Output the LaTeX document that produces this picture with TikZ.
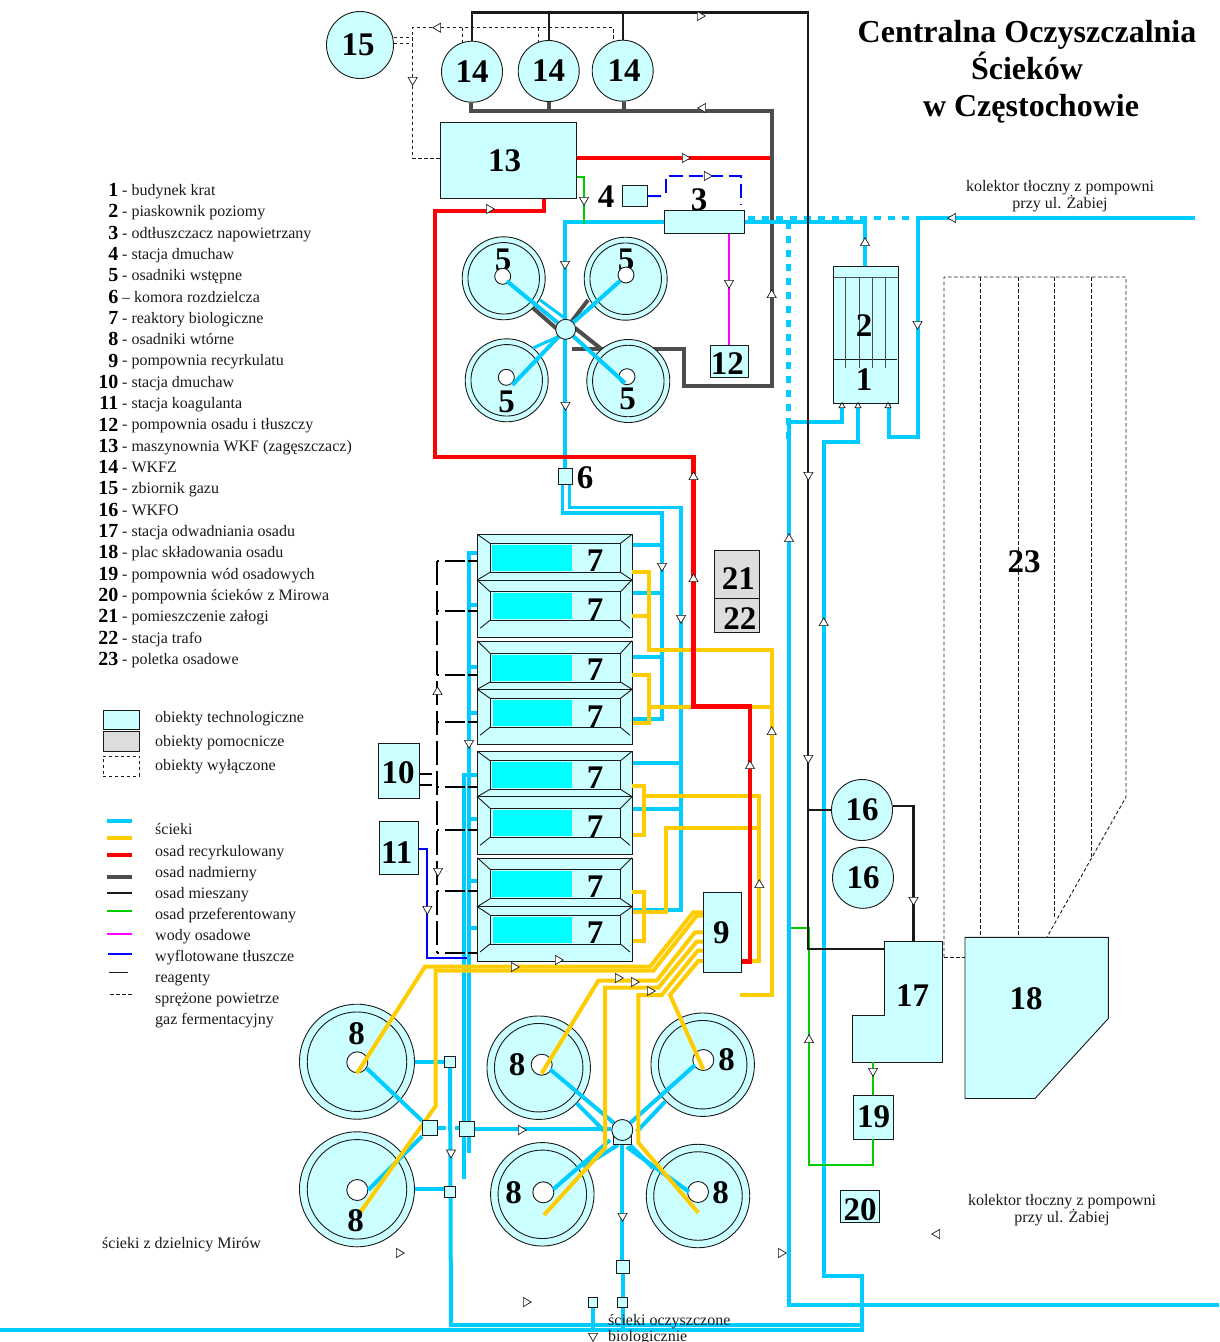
\documentclass[tikz,border=0pt]{standalone}
\usepackage{fontspec}
\setmainfont{Liberation Serif}
\usetikzlibrary{arrows.meta,positioning,shapes,calc}
\definecolor{tankfill}{HTML}{CCFFFF}
\definecolor{basinfill}{HTML}{00FFFF}
\definecolor{auxfill}{HTML}{DDDDDD}
\definecolor{ink}{HTML}{1A1A1A}
\definecolor{sewagecol}{HTML}{00CCFF}
\definecolor{returncol}{HTML}{FFCC00}
\definecolor{recyclecol}{HTML}{FF0000}
\definecolor{excesscol}{HTML}{4D4D4D}
\definecolor{primarycol}{HTML}{00CC00}
\definecolor{liquorcol}{HTML}{FF00FF}
\definecolor{fatcol}{HTML}{0000FF}
\pgfdeclarelayer{under}
\pgfdeclarelayer{over}
\pgfsetlayers{under,main,over}
\tikzset{
  objbox/.style={draw=ink,fill=tankfill,line width=0.9pt,inner sep=0pt,
                 font=\fontsize{33}{36}\selectfont\bfseries},
  auxbox/.style={objbox,fill=auxfill},
  roundobj/.style={objbox,circle},
  ringobj/.style={draw=ink,circle,line width=0.9pt,inner sep=0pt,fill=none},
  holeobj/.style={draw=ink,fill=white,circle,line width=0.9pt,inner sep=0pt},
  numlab/.style={inner sep=0pt,font=\fontsize{33}{36}\selectfont\bfseries},
  txtlab/.style={inner sep=0pt,align=center,font=\fontsize{16}{16}\selectfont,text=ink},
  rowlab/.style={txtlab,anchor=base west},
  flowtip/.style={regular polygon,regular polygon sides=3,draw=ink,fill=white,
                  line width=0.7pt,inner sep=0pt,minimum size=10.5pt},
  sewage/.style={line width=4pt,color=sewagecol},
  sewagedot/.style={sewage,line width=4.5pt,dash pattern=on 6.5pt off 7.5pt},
  returnsl/.style={line width=4pt,color=returncol},
  recycle/.style={line width=4.5pt,color=recyclecol},
  excess/.style={line width=4pt,color=excesscol},
  mixedsl/.style={line width=2.2pt,color=ink},
  primarysl/.style={line width=2pt,color=primarycol},
  liquor/.style={line width=2pt,color=liquorcol},
  fatline/.style={line width=2pt,color=fatcol},
  reagent/.style={line width=1.8pt,color=black,dash pattern=on 24pt off 6pt},
  reagentarm/.style={line width=1.8pt,color=black,dash pattern=on 2pt off 6pt on 20pt off 3pt on 9pt},
  gasline/.style={line width=0.9pt,color=ink,dash pattern=on 3.5pt off 2.5pt}
}
\begin{document}
\begin{tikzpicture}[x=1pt,y=-1pt]
  \useasboundingbox (0,0) rectangle (1219,1342);
  \node[inner sep=0pt,align=center,font=\fontsize{32}{37}\selectfont\bfseries] (title) at (1027,72)
    {Centralna Oczyszczalnia\\Ścieków\\\hspace*{8pt}w Częstochowie};
  \node[txtlab] (kolektortop) at (1060,196) {kolektor tłoczny z pompowni\\przy ul. Żabiej};
  \node[txtlab] (kolektorbot) at (1062,1210) {kolektor tłoczny z pompowni\\przy ul. Żabiej};
  \node[rowlab] (mirow) at (102,1248) {ścieki z dzielnicy Mirów};

  \foreach \lnum/\ltxt [count=\k] in {1/- budynek krat,2/- piaskownik poziomy,3/- odtłuszczacz napowietrzany,
      4/- stacja dmuchaw,5/- osadniki wstępne,6/– komora rozdzielcza,7/- reaktory biologiczne,
      8/- osadniki wtórne,9/- pompownia recyrkulatu,10/- stacja dmuchaw,11/- stacja koagulanta,
      12/- pompownia osadu i tłuszczy,13/- maszynownia WKF (zagęszczacz),14/- WKFZ,15/- zbiornik gazu,
      16/- WKFO,17/- stacja odwadniania osadu,18/- plac składowania osadu,19/- pompownia wód osadowych,
      20/- pompownia ścieków z Mirowa,21/- pomieszczenie załogi,22/- stacja trafo,23/- poletka osadowe}{
    \pgfmathsetmacro\ly{190+(\k-1)*21.31}
    \node[anchor=east,inner sep=0pt,font=\fontsize{20}{20}\selectfont\bfseries] (legnum\k) at (118.5,\ly) {\lnum};
    \node[rowlab] (legtxt\k) at (122,\ly+5.5) {\ltxt};
  }

  \node[objbox,minimum width=36.4pt,minimum height=19.3pt] (swtech) at (121.5,719.7) {};
  \node[auxbox,minimum width=36.4pt,minimum height=20pt] (swaux) at (121.5,741.7) {};
  \node[draw=ink,dashed,line width=0.8pt,inner sep=0pt,minimum width=36.4pt,minimum height=20pt] (swoff) at (121.5,766) {};
  \node[rowlab] (txttech) at (155,722) {obiekty technologiczne};
  \node[rowlab] (txtaux) at (155,746) {obiekty pomocnicze};
  \node[rowlab] (txtoff) at (155,770) {obiekty wyłączone};

  \draw[sewage] (107,821) -- (132,821);
  \draw[returnsl] (107,837.7) -- (132,837.7);
  \draw[recycle] (107,855) -- (132,855);
  \draw[excess] (107,876.7) -- (132,876.7);
  \draw[mixedsl] (107,893.3) -- (132,893.3);
  \draw[primarysl] (107,911) -- (132,911);
  \draw[liquor] (107,933.7) -- (132,933.7);
  \draw[fatline] (108,953.7) -- (132,953.7);
  \draw[line width=1.2pt,color=ink] (109,972.7) -- (128,972.7);
  \draw[gasline] (110,994.7) -- (134,994.7);
  \foreach \ltxt/\ly [count=\k] in {ścieki/834,osad recyrkulowany/856,osad nadmierny/877,osad mieszany/898,
      osad przeferentowany/919,wody osadowe/940,wyflotowane tłuszcze/961,reagenty/982,
      sprężone powietrze/1003,gaz fermentacyjny/1024}{
    \node[rowlab] (linetxt\k) at (155,\ly) {\ltxt};
  }

  \node[roundobj,minimum size=67pt] (gas15) at (360,45) {\hspace*{-4pt}15};
  \node[roundobj,minimum size=61pt] (wkfza) at (472,71.7) {14};
  \node[roundobj,minimum size=61pt] (wkfzb) at (548.7,71) {14};
  \node[roundobj,minimum size=61pt] (wkfzc) at (622.7,70.7) {\hspace*{3pt}14};
  \node[objbox,minimum width=136.4pt,minimum height=76pt] (wkf13) at (508.5,160.3) {\hspace*{-8pt}13};
  \node[objbox,minimum width=25pt,minimum height=21pt] (blow4) at (635.2,196.2) {};
  \node[numlab] (lab3) at (699,200) {3};
  \node[numlab] (lab4) at (606,197) {4};
  \node[objbox,minimum width=80.7pt,minimum height=23.4pt] (fat3) at (704.3,222) {};
  \node[objbox,minimum width=38pt,minimum height=32.4pt,text height=26pt] (pump12) at (729.3,361.5) {\hspace*{-4pt}12};
  \node[auxbox,minimum width=45pt,minimum height=48pt,text height=30pt] (crew21) at (736.8,574) {\hspace*{3pt}21};
  \node[auxbox,minimum width=45pt,minimum height=34pt,text height=28pt] (trafo22) at (736.8,615) {\hspace*{6pt}22};
  \node[objbox,minimum width=38pt,minimum height=80pt] (pump9) at (722.3,932.3) {\hspace*{-2pt}9};
  \node[objbox,minimum width=40.6pt,minimum height=54.7pt,text height=26pt] (blow10) at (399,770.7) {\hspace*{-2pt}10};
  \node[objbox,minimum width=39pt,minimum height=52.3pt,text height=30pt] (coag11) at (398.8,848) {\hspace*{-4pt}11};
  \node[objbox,minimum width=40.4pt,minimum height=44pt] (pump19) at (873.5,1117) {19};
  \node[objbox,minimum width=38.6pt,minimum height=31.3pt,text height=29pt] (pump20) at (860,1206.3) {20};
  \node[roundobj,minimum size=61pt] (wkfoa) at (862,810) {16};
  \node[roundobj,minimum size=61pt] (wkfob) at (863,877.8) {16};

  \node[objbox,minimum width=65.3pt,minimum height=137.4pt] (grit12) at (865.7,335) {};
  \draw[line width=1pt,color=excesscol] (833,277.7) -- (898,277.7);
  \draw[line width=0.8pt,color=ink] (833,359.3) -- (897,359.3);
  \foreach \vx in {845.7,859.3,872.3,885.7}
    \draw[line width=0.9pt,color=excesscol] (\vx,277.7) -- (\vx,367.7);
  \node[numlab] (lab2) at (864,325.7) {2};
  \node[numlab] (lab1) at (864,380) {1};

  \draw[objbox] (884.7,941) -- (942.7,941) -- (942.7,1062) -- (852.7,1062) -- (852.7,1015) -- (884.7,1015) -- cycle;
  \node[numlab] (lab17) at (912.7,996) {17};
  \draw[objbox] (965,937.3) -- (1108.3,937.3) -- (1108.3,1018.5) -- (1035,1098.5) -- (965,1098.5) -- cycle;
  \node[numlab] (lab18) at (1026,999) {18};
  \coordinate (in17) at (913.5,941);
  \coordinate (side17) at (884.7,949);
  \coordinate (out17) at (873,1062);

  \draw[gasline] (944,957) -- (944,277) -- (1126,277) -- (1126,797) -- (1047,937);
  \draw[gasline] (944,957) -- (965,957);
  \draw[gasline] (980,277) -- (980,937);
  \draw[gasline] (1018.3,277) -- (1018.3,937);
  \draw[gasline] (1054,277) -- (1054,919);
  \draw[gasline] (1091,277) -- (1091,858);
  \node[numlab] (lab23) at (1024,562) {23};

  \foreach \tn/\tx/\ty/\hx/\hy/\lx/\ly in {a/503.7/278.3/502.7/276.3/503/260,b/625.7/278.7/626/275/626/260,
      c/506.7/380.3/506.3/377.3/506.7/401.7,d/628.3/381/627/376.7/627.7/399}{
    \node[roundobj,minimum size=83pt] (prim\tn) at (\tx,\ty) {};
    \node[ringobj,minimum size=71.5pt] (primring\tn) at (\tx,\ty) {};
    \node[numlab] (primlab\tn) at (\lx,\ly) {5};
    \node[holeobj,minimum size=16pt] (primhole\tn) at (\hx,\hy) {};
  }

  \foreach \tn/\tx/\ty/\hx/\hy in {a/357/1061.7/357.3/1062.3,b/357/1189.3/357.3/1190}{
    \node[roundobj,minimum size=115pt] (sec\tn) at (\tx,\ty) {};
    \node[ringobj,minimum size=99.5pt] (secring\tn) at (\tx,\ty) {};
    \node[holeobj,minimum size=21pt] (sechole\tn) at (\hx,\hy) {};
  }
  \foreach \tn/\tx/\ty/\hx/\hy in {c/538.7/1067.7/541.7/1064.7,d/702.7/1064.7/703.3/1060,
      e/542.3/1194.3/543.3/1192.3,f/698/1196/698/1192}{
    \node[roundobj,minimum size=103.5pt] (sec\tn) at (\tx,\ty) {};
    \node[ringobj,minimum size=88.5pt] (secring\tn) at (\tx,\ty) {};
    \node[holeobj,minimum size=21pt] (sechole\tn) at (\hx,\hy) {};
  }

  \foreach \bn/\bt/\bd/\bb/\ia/\ib/\ic/\ie in {a/534.3/580/637.3/543.3/572.3/591.7/620.3,
      b/640.7/689.3/744/653.3/682/698.3/727.3,c/751.3/796.7/854/760.7/789.3/808.3/837.3,
      d/857.7/906.7/961/869.3/898.7/915/944}{
    \node[objbox,anchor=north west,minimum width=154.7pt,minimum height=(\bb-\bt)*1pt] (react\bn) at (477.3,\bt) {};
    \fill[basinfill] (492,\ia+1.5) rectangle (571.7,\ib-1.5);
    \fill[basinfill] (492.5,\ic+1.5) rectangle (572,\ie-1.5);
    \node[numlab] (reactlab\bn) at (595,\ib-12) {7};
    \node[numlab] (reactlow\bn) at (595,\ie-11) {7};
    \draw[line width=0.9pt,color=ink] (490,\ia) rectangle (620.5,\ib);
    \draw[line width=0.9pt,color=ink] (490,\ic) rectangle (620.5,\ie);
    \draw[line width=0.9pt,color=ink] (477.3,\bd) -- (632,\bd);
    \draw[line width=0.9pt,color=ink] (477.3,\bt) -- (490,\ia) (632,\bt) -- (620.5,\ia);
    \draw[line width=0.9pt,color=ink] (490,\ib) -- (477.3,\bd) -- (490,\ic);
    \draw[line width=0.9pt,color=ink] (620.5,\ib) -- (632,\bd) -- (620.5,\ic);
    \draw[line width=0.9pt,color=ink] (490,\ie) -- (480,\ie+8) (620.5,\ie) -- (630,\ie+8);
  }

  \begin{pgfonlayer}{over}
    \node[objbox,minimum width=13.6pt,minimum height=16pt] (chamber6) at (565.5,476) {};
    \node[roundobj,minimum size=20pt] (hubprim) at (565.7,329.3) {};
    \node[objbox,minimum width=18pt,minimum height=14pt] (hubbase) at (622.3,1137.5) {};
    \node[roundobj,minimum size=21pt] (hubsec) at (622.3,1130) {};
    \node[objbox,minimum size=15pt] (sqleft) at (430,1128.3) {};
    \node[objbox,minimum size=15pt] (sqmid) at (467,1129) {};
    \node[objbox,minimum size=11pt] (sqtop) at (450,1061.7) {};
    \node[objbox,minimum size=11pt] (sqbot) at (449.7,1191.7) {};
    \node[objbox,minimum size=12.5pt] (sqout) at (622.7,1267) {};
    \node[objbox,minimum size=10pt] (sqouta) at (622.7,1302.3) {};
    \node[objbox,minimum size=9.5pt] (sqoutb) at (592.7,1302.3) {};
    \node[numlab] (lab6) at (585,478) {6};
    \node[numlab] (seclaba) at (356.7,1033.3) {8};
    \node[numlab] (seclabb) at (355.7,1220.7) {8};
    \node[numlab] (seclabc) at (517,1065) {8};
    \node[numlab] (seclabd) at (726.7,1060) {8};
    \node[numlab] (seclabe) at (513.7,1192.7) {8};
    \node[numlab] (seclabf) at (720.7,1192.7) {8};
    \node[txtlab,align=left,anchor=base west] (oczyszcz) at (608,1341) {ścieki oczyszczone\\biologicznie};
  \end{pgfonlayer}

  \begin{pgfonlayer}{under}
    \draw[excess] ([xshift=-1.5pt]wkfza.south) -- (470.5,111) -- (771.7,111) -- (771.7,385.7) -- (684,385.7) -- (684,349.3) -- (571.7,349.3);
    \draw[excess] ([xshift=0.3pt]wkfzb.south) -- (549,111);
    \draw[excess] ([xshift=1.3pt]wkfzc.south) -- (624,111);
    \draw[excess] (533,308) -- (557,329);
    \draw[excess] (575,328) -- (601.7,349.3);
    \draw[excess] (588,300) -- (hubprim);
  \end{pgfonlayer}

  \draw[sewage] (fat3.east) -- (865,222) -- (865,266);
  \draw[sewage] (fat3.west) -- (565,222) -- (chamber6.north -| 565,0);
  \draw[sewagedot] (748,218) -- (918,218);
  \draw[sewagedot] (788.5,222) -- (788.5,440);
  \draw[sewage] (1195,218) -- (918,218) -- (918,437.3) -- (888.7,437.3) -- (888.7,404);
  \draw[sewage] (842,404) -- (842,421.7) -- (789,421.7) -- (789,1305) -- (1219,1305);
  \draw[sewage] (858,404) -- (858,441.7) -- (823.7,441.7) -- (823.7,1276) -- (862,1276) -- (862,1329.5) -- (0,1329.5);
  \draw[sewage] (sqtop.south) -- (451,1325) -- (862,1325);
  \draw[sewage] (506.7,281) -- (hubprim);
  \draw[sewage] (620,281) -- (hubprim);
  \draw[sewage] (512.3,385) -- (hubprim);
  \draw[sewage] (625,383) -- (hubprim);
  \draw[sewage,line width=3pt] (540,300) -- (hubprim.north);
  \draw[sewage,line width=3pt] (593,306) -- (hubprim.north east);
  \draw[sewage,line width=3pt] (533,348) -- (hubprim.south west);
  \draw[sewage,line width=3.4pt] (562.5,484) -- (562.5,513) -- (662,513) -- (662,719) -- (633,719);
  \draw[sewage,line width=3.4pt] (569.5,484) -- (569.5,507.5) -- (681,507.5) -- (681,910) -- (633,910);
  \foreach \by in {545.3,593,656.7}
    \draw[sewage] (662,\by) -- (reacta.east |- 0,\by);
  \foreach \by in {763.3,809.3}
    \draw[sewage] (681,\by) -- (reacta.east |- 0,\by);
  \draw[sewage] (reacta.west |- 0,552.7) -- (469,552.7) -- (469,1152.7);
  \draw[sewage] (reacta.west |- 0,775) -- (463.7,775) -- (463.7,1179.3);
  \foreach \by in {605,666.7,712.7,819.3,880.7,928}
    \draw[sewage] (469,\by) -- (reacta.west |- 0,\by);
  \draw[sewage] (366.7,1068.3) -- (sqleft);
  \draw[sewage] (368.3,1190) -- (sqleft);
  \draw[sewage] (seca.east) -- (sqtop.west);
  \draw[sewage] (secb.east) -- (sqbot.west |- secb.east);
  \draw[sewage] (sqmid.east) -- (hubsec.west |- sqmid.east);
  \draw[sewage,dash pattern=on 8pt off 9pt] (sqleft.east) -- (sqmid.west |- sqleft.east);
  \draw[sewage] (550,1069.3) -- (hubsec);
  \draw[sewage] (576.7,1103.3) -- (605,1131.7);
  \draw[sewage] (695,1065) -- (hubsec);
  \draw[sewage] (665,1101.7) -- (636.7,1131.7);
  \draw[sewage] (553.3,1189.3) -- (610,1140);
  \draw[sewage] (583,1166.7) -- (618,1145);
  \draw[sewage] (689,1191.7) -- (626.7,1147);
  \draw[sewage] (653,1168) -- (630,1145);
  \draw[sewage] (hubbase.south) -- (sqout.north -| hubbase.south);
  \draw[sewage] (sqout.south) -- (sqouta.north);
  \draw[sewage] (sqouta.south) -- (622.7,1329);
  \draw[sewage] (sqoutb.south) -- (592.7,1329);

  \draw[returnsl] (632,571.7) -- (649.3,571.7) -- (649.3,650) -- (771.7,650) -- (771.7,995) -- (740,995);
  \draw[returnsl] (632,616) -- (649.3,616);
  \draw[returnsl] (632,675) -- (649.3,675) -- (649.3,722.7) -- (633,722.7);
  \draw[returnsl] (649.3,706.7) -- (771.7,706.7);
  \draw[returnsl] (632,786) -- (644.3,786) -- (644.3,835.3) -- (633,835.3);
  \draw[returnsl] (644.3,796) -- (759.3,796) -- (759.3,961) -- (pump9.east |- 0,961);
  \draw[returnsl] (759.3,828.3) -- (666,828.3) -- (666,911.7) -- (633,911.7);
  \draw[returnsl] (632,892) -- (644.3,892) -- (644.3,941) -- (633,941);
  \draw[returnsl] (pump9.west |- 0,912.3) -- (693.3,912.3) -- (650,966.7) -- (425,966.7) -- (357,1073.3);
  \draw[returnsl] (pump9.west |- 0,915.7) -- (696.7,915.7) -- (653.3,970.7) -- (435.7,970.7) -- (435.7,1106) -- (360.7,1211.7);
  \draw[returnsl] (pump9.west |- 0,932.3) -- (695,932.3) -- (656.7,980.7) -- (598.3,980.7) -- (541.7,1073.3);
  \draw[returnsl] (pump9.west |- 0,941.7) -- (696.7,941.7) -- (658.3,987.7) -- (605,987.7) -- (605,1148) -- (544,1215);
  \draw[returnsl] (pump9.west |- 0,950.7) -- (697.7,950.7) -- (661.7,995) -- (638.3,995) -- (638.3,1142.7) -- (698.3,1212.7);
  \draw[returnsl] (pump9.west |- 0,961) -- (698.3,961) -- (670,995) -- (703.3,1069.3);

  \draw[recycle] (wkf13.east |- 0,158) -- (770,158);
  \draw[recycle] (wkf13.south -| 544,0) -- (544,211) -- (435,211) -- (435,457) -- (693.5,457) -- (693.5,706.7) -- (750,706.7) -- (750,961.7) -- (pump9.east |- 0,961.7);

  \draw[primarysl] (wkf13.east |- 0,176.7) -- (584,176.7) -- (584,224);
  \draw[primarysl] (out17) -- (pump19.north -| out17);
  \draw[primarysl] (pump19.south -| 873,0) -- (873,1165) -- (809,1165) -- (809,928) -- (791,928);
  \draw[liquor] (fat3.south -| 729,0) -- (pump12.north -| 729,0);
  \draw[fatline] (blow4.east) -- (661,196);
  \draw[fatline,dash pattern=on 14pt off 6pt] (665.5,193) -- (665.5,176) -- (741,176) -- (741,205);
  \draw[fatline] (coag11.east |- 0,849) -- (427.3,849) -- (427.3,957.7) -- (466.7,957.7);

  \draw[mixedsl] (wkfza.north) -- (472,12.5) -- (808.3,12.5) -- (808.3,949) -- (side17);
  \draw[mixedsl] (wkfzb.north) -- (548.7,12.5);
  \draw[mixedsl] (wkfzc.north) -- (622.7,12.5);
  \draw[mixedsl] (wkfoa.west) -- (808.3,810);
  \draw[mixedsl] (wkfoa.east |- 0,806) -- (913.5,806) -- (in17);

  \draw[reagent] (437.3,561) -- (437.3,953);
  \foreach \by in {561,611,675,722,787,830,891,953}
    \draw[reagentarm] (437.3,\by) -- (reacta.west |- 0,\by);
  \draw[line width=1.8pt,color=black] (blow10.east |- 0,774) -- (432,774);
  \draw[line width=1.8pt,color=black] (blow10.east |- 0,784.7) -- (432,784.7);

  \draw[gasline] (gas15.east |- 0,37.3) -- (412.7,37.3);
  \draw[gasline] (gas15.east |- 0,43.3) -- (412.7,43.3);
  \draw[gasline] (wkf13.west |- 0,158.3) -- (412.7,158.3) -- (412.7,27.7) -- (613.3,27.7) -- (613.3,42);
  \draw[gasline] (462.3,27.7) -- (462.3,43);
  \draw[gasline] (538.3,27.7) -- (538.3,42);

  \begin{pgfonlayer}{over}
    \foreach \tx/\ty/\ta [count=\k] in {700/16/-90,438/27.7/90,412.7/80/180,703/108/90,771.7/295/0,685/158/-90,
        489/209/-90,584/200/180,707/176/-90,729/283/180,565/264/180,565.5/405/180,953/218/90,865/243/0,
        917.5/324/180,808.3/475/180,789/539/0,823.7/623/0,808.3/758/180,693.5/477/0,693.5/579/0,662/566/180,
        681/618/180,750/766/0,771.7/732/0,759.3/885/0,469/743/180,437.5/692/0,438/871/180,427.3/909/180,
        514/967/-90,558/960/-90,618/978/-90,634/982/-90,650/991/-90,913.5/900/180,809/1040/0,873/1071/180,
        521/1130/-90,451/1152.7/180,622.5/1216/180,593/1336/180,399/1253/-90,526/1302/-90,781/1253/-90,937/1234/90}
      \node[flowtip,rotate=\ta] (tip\k) at (\tx,\ty) {};
    \foreach \tx [count=\k] in {842,858,888}
      \node[flowtip,minimum size=7pt] (inlet\k) at (\tx,406) {};
  \end{pgfonlayer}
\end{tikzpicture}
\end{document}
